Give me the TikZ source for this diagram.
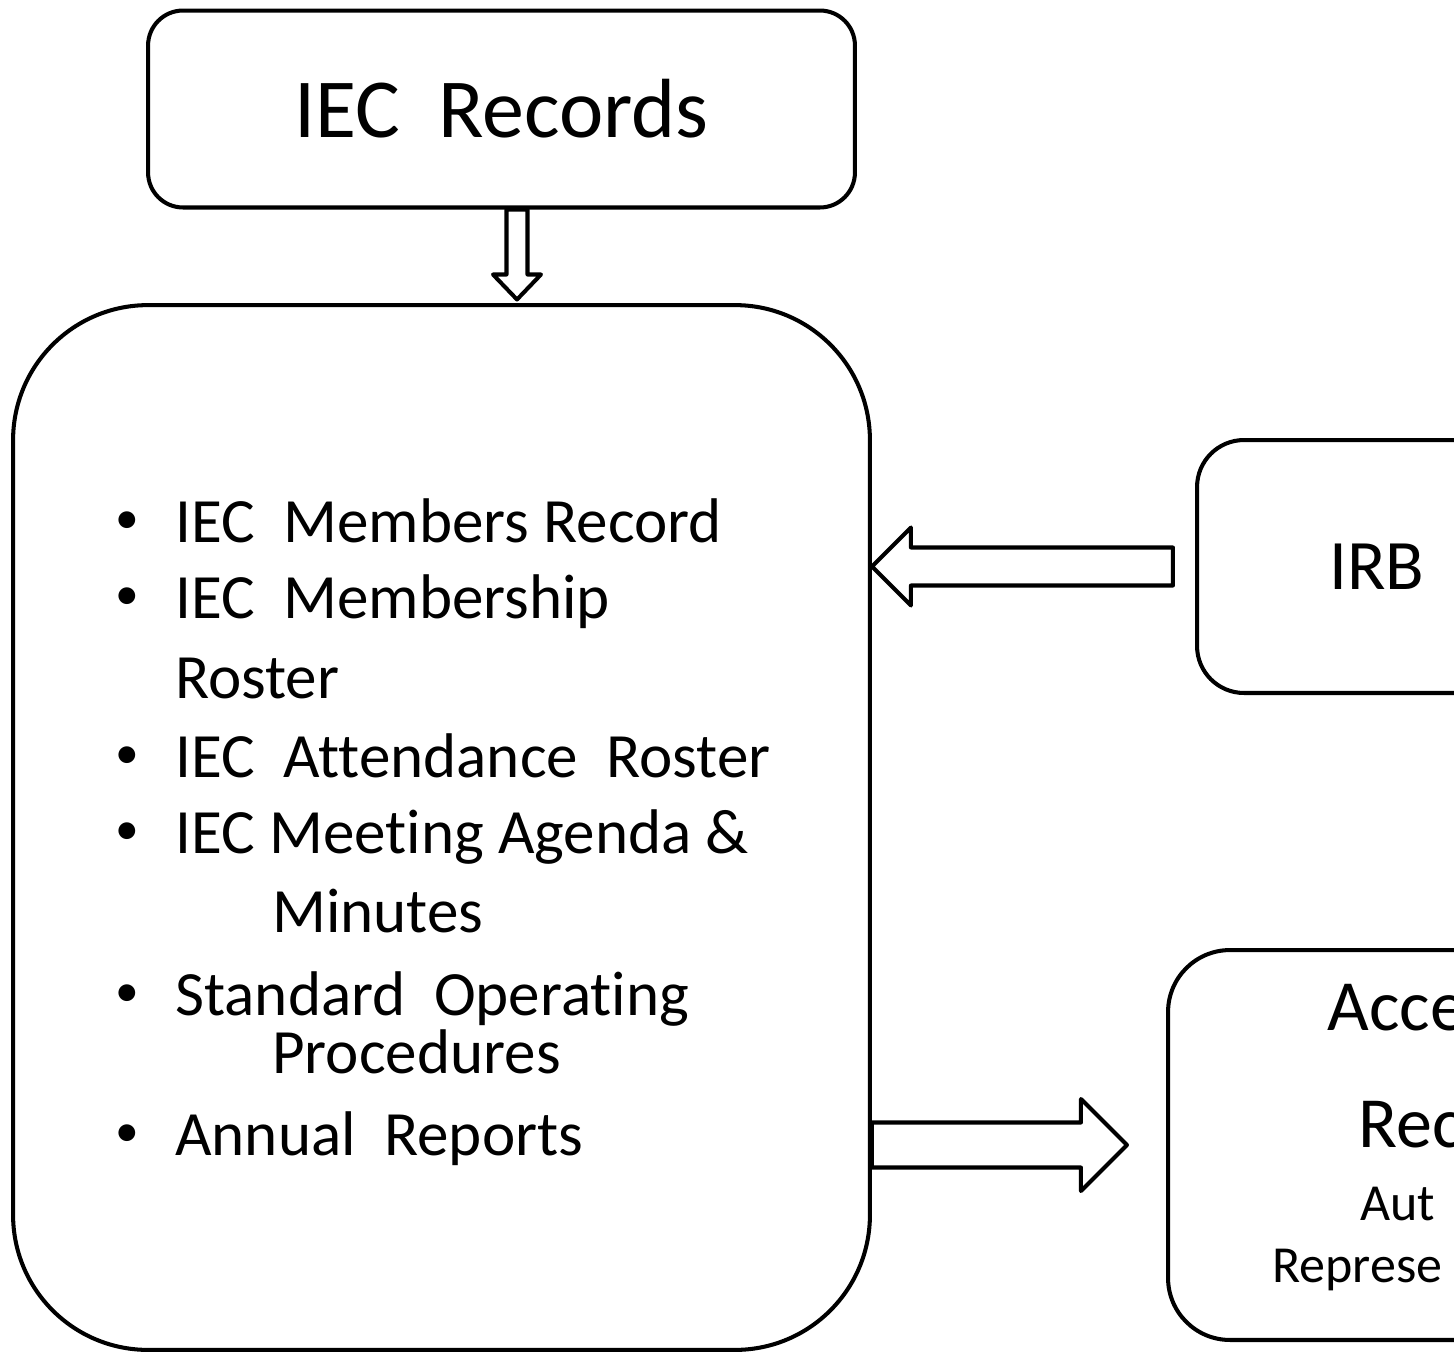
\documentclass[tikz,border=0pt]{standalone}
\usepackage{fontspec}
\setmainfont{Carlito}[Ligatures=NoCommon]
\usetikzlibrary{calc}

\begin{document}
\begin{tikzpicture}[
    x=0.02cm, y=-0.02cm,
    box/.style={draw, line width=2.3pt, rectangle, align=center, fill=white},
    item/.style={anchor=base west, inner sep=0pt, font=\fontsize{35.9}{40}\selectfont},
    dot/.style={anchor=base west, inner sep=0pt, yshift=5pt, font=\fontsize{27}{30}\selectfont},
    part/.style={anchor=base west, inner sep=0pt},
    blockarrow/.style={draw, line width=2.3pt, line join=round, fill=white}
]
    \useasboundingbox (0,0) rectangle (1454,1353);
    \clip (0,0) rectangle (1454,1353);

    % Boxes
    \node[box, rounded corners=0.7cm, minimum width=14.14cm, minimum height=3.94cm,
          font=\fontsize{47.8}{52}\selectfont] (recs) at (501.5,109) {IEC~~Records};
    \node[box, rounded corners=2.7cm, minimum width=17.14cm, minimum height=20.9cm] (big) at (441.5,827.5) {};
    \node[box, rounded corners=0.94cm, minimum width=7.2cm, minimum height=5.06cm,
          font=\fontsize{40.4}{44}\selectfont] (irb) at (1377,566.5) {IRB};
    \node[box, rounded corners=1.24cm, minimum width=9.64cm, minimum height=7.8cm] (acce) at (1409,1145) {};

    % Bullet list
    \node[dot] (d1) at (115,542) {•};
    \node[item] (l1) at (175,542) {IEC~~Members Record};
    \node[dot] (d2) at (115,618) {•};
    \node[item] (l2) at (175,618) {IEC~~Membership};
    \node[item] (l2b) at (175,698) {Roster};
    \node[dot] (d3) at (115,777) {•};
    \node[item] (l3) at (175,777) {IEC~~Attendance~~Roster};
    \node[dot] (d4) at (115,853) {•};
    \node[item] (l4) at (175,853) {IEC Meeting Agenda \&};
    \node[item] (l4b) at (272,932) {Minutes};
    \node[dot] (d5) at (115,1015) {•};
    \node[item] (l5) at (175,1015) {Standard~~Operating};
    \node[item] (l5b) at (272,1073) {Procedures};
    \node[dot] (d6) at (115,1155) {•};
    \node[item] (l6) at (175,1155) {Annual~~Reports};

    % Text of the right box
    \node[part, font=\fontsize{41}{45}\selectfont] (t1) at (1327,1030) {Acce};
    \node[part, font=\fontsize{41}{45}\selectfont] (t2) at (1358,1147) {Rec};
    \node[part, font=\fontsize{29.6}{33}\selectfont] (t3) at (1360,1220) {Aut};
    \node[part, font=\fontsize{29.6}{33}\selectfont] (t4) at (1272,1282) {Represe};

    % Block arrows
    \draw[blockarrow] ($(recs.south)+(5,0)$) -- ++(0,65) -- ++(-13.5,0) -- ++(24,25)
        -- ++(24,-25) -- ++(-13.5,0) -- ++(0,-65) -- cycle;
    \draw[blockarrow] (big.east |- irb.west) -- ++(39,-39) -- ++(0,20) -- ++(262,0)
        -- ++(0,38) -- ++(-262,0) -- ++(0,20) -- cycle;
    \draw[blockarrow] ($(big.east |- acce.west)+(0,-22.5)$) -- ++(209,0) -- ++(0,-23.5)
        -- ++(46,46) -- ++(-46,46) -- ++(0,-23.5) -- ++(-209,0) -- cycle;

\end{tikzpicture}
\end{document}
